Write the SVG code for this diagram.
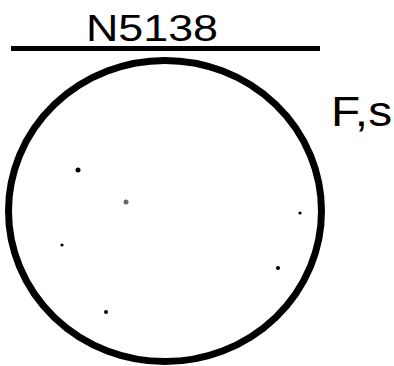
<svg xmlns="http://www.w3.org/2000/svg" width="394" height="366" viewBox="0 0 394 366">
<style>
.ink{fill:#000;font-family:"Liberation Sans",Arial,sans-serif}
.dot{fill:#000}
</style>
<rect width="394" height="366" fill="#fff"/>
<g id="title">
<text class="ink" x="86" y="41" font-size="36" textLength="132" lengthAdjust="spacingAndGlyphs">N5138</text>
<line x1="11" y1="48.5" x2="320" y2="48.5" stroke="#000" stroke-width="5"/>
</g>
<g id="label">
<text class="ink" x="331" y="126" font-size="42" textLength="61" lengthAdjust="spacingAndGlyphs">F,s</text>
</g>
<g id="circle">
<ellipse cx="165" cy="211" rx="156.5" ry="150.5" fill="none" stroke="#000" stroke-width="7"/>
</g>
<g id="dots">
<circle class="dot" cx="78" cy="170" r="2.5"/>
<circle class="dot" cx="126" cy="202" r="2.5" opacity="0.6"/>
<circle class="dot" cx="300" cy="213" r="1.6"/>
<circle class="dot" cx="62" cy="245" r="1.6"/>
<circle class="dot" cx="278" cy="268" r="2"/>
<circle class="dot" cx="106" cy="312" r="2"/>
</g>
<g id="connectors"></g>
</svg>
